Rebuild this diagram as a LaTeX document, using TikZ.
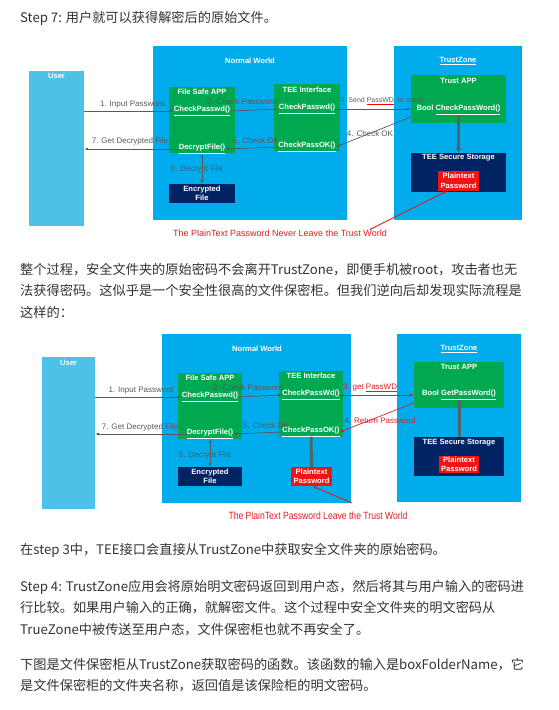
\documentclass[tikz,border=0pt]{standalone}
\usepackage{fontspec}
\setmainfont{Noto Sans CJK SC}
\newfontfamily\dfont{Liberation Sans}
\usepackage{graphicx}
\usetikzlibrary{arrows.meta}
\definecolor{tgray}{RGB}{51,51,51}
\definecolor{ublue}{RGB}{78,193,233}
\definecolor{wblue}{RGB}{0,172,236}
\definecolor{agreen}{RGB}{0,168,80}
\definecolor{snavy}{RGB}{0,35,100}
\definecolor{pred}{RGB}{240,20,20}
\definecolor{cred}{RGB}{225,30,35}
\definecolor{lgray}{RGB}{90,90,90}
\definecolor{bgray}{RGB}{80,100,110}
\newcommand\squig[1]{{\color{red}\underline{\color{lgray}#1}}}

\begin{document}
\begin{tikzpicture}[x=1pt,y=-1pt,
  para/.style={anchor=north west,inner sep=0,align=left,text=tgray,font=\fontsize{13.2}{21.3}\selectfont},
  area/.style={fill=wblue,inner sep=0},
  userbox/.style={fill=ublue,inner sep=0},
  app/.style={fill=agreen,inner sep=0},
  store/.style={fill=snavy,inner sep=0,text=white,align=center,font=\dfont\bfseries\fontsize{7.6}{9.5}\selectfont},
  plain/.style={store,fill=pred},
  ttl/.style={text=white,inner sep=0,font=\dfont\bfseries\fontsize{7.6}{9}\selectfont},
  lbl/.style={text=lgray,inner sep=0,font=\dfont\fontsize{8}{9}\selectfont},
  rlbl/.style={lbl,text=cred},
  arr/.style={-{Latex[length=4pt,width=3pt]},lgray,line width=0.7pt},
  darr/.style={arr,{Latex[length=4pt,width=3pt]}-{Latex[length=4pt,width=3pt]}},
  rarr/.style={arr,cred},
  thk/.style={bgray,line width=3pt},
  captxt/.style={text=cred,inner sep=0,font=\dfont\fontsize{9}{11}\selectfont}]
\fill[white] (0,0) rectangle (559,710);
\useasboundingbox (0,0) rectangle (559,710);

% text above
\node[para] (p1) at (20,11) {Step 7: 用户就可以获得解密后的原始文件。};

% first diagram
\node[area,minimum width=194,minimum height=174] (nw1) at (250,133) {};
\node[area,minimum width=128,minimum height=174] (tz1) at (458,133) {};
\node[userbox,minimum width=55,minimum height=155] (user1) at (56.5,148.5) {};
\node[app,minimum width=66,minimum height=66] (fsa1) at (202,120) {};
\node[app,minimum width=66,minimum height=67] (tei1) at (307,117.5) {};
\node[app,minimum width=95,minimum height=48] (tapp1) at (458.5,99) {};
\node[store,minimum width=66,minimum height=19] (enc1) at (202,193.5) {Encrypted\\File};
\node[store,minimum width=95,minimum height=39] (tss1) at (458.5,172.5) {};
\node[plain,minimum width=41,minimum height=20] (ptp1) at (458.5,181) {Plaintext\\Password};
\node[ttl] (user1t) at (56.5,76) {User};
\node[ttl] (nw1t) at (250,61) {Normal World};
\node[ttl] (tz1t) at (458,61) {\underline{TrustZone}};
\node[ttl] (fsa1t) at (202,92) {File Safe APP};
\node[ttl] (cp1) at (202,111) {\underline{CheckPasswd()}};
\node[ttl] (dec1) at (202,149) {\underline{DecryptFile()}};
\node[ttl] (tei1t) at (307,90) {TEE Interface};
\node[ttl] (tcp1) at (307,109) {\underline{CheckPasswd()}};
\node[ttl] (tok1) at (307,147) {\underline{CheckPassOK()}};
\node[ttl] (tapp1t) at (458.5,81) {Trust APP};
\node[ttl] (bcp1) at (458.5,110) {Bool \underline{CheckPassWord()}};
\node[ttl] (tss1t) at (458.5,158) {TEE Secure Storage};
\draw[arr] (user1.east |- cp1.west) -- (cp1.west);
\draw[arr] (cp1.east) -- (tcp1.west);
\draw[arr] (tcp1.east) -- (tcp1.east -| tapp1.west);
\draw[arr] ([yshift=-18pt]tapp1.west) -- (tok1.east);
\draw[arr] (tok1.west) -- (dec1.east);
\draw[arr] (dec1.west) -- (dec1.west -| user1.east);
\draw[darr] (dec1.south) -- (enc1.north);
\draw[thk,-{Latex[length=5pt,width=7pt]}] (bcp1.south -| tss1.north) -- (tss1.north);
\node[lbl] (l1a) at (132.5,104) {1. Input Password};
\node[lbl] (l2a) at (242,102) {2. Check Password};
\node[lbl,font=\dfont\fontsize{7}{8}\selectfont] (l3a) at (382,101) {3. Send \squig{PassWD}\ \ to check};
\node[lbl] (l4a) at (370,134) {4. Check OK};
\node[lbl] (l5a) at (256,141) {5. Check OK};
\node[lbl] (l6a) at (197,169) {6. Decrypt File};
\node[lbl] (l7a) at (130,141) {7. Get Decrypted File};
\node[captxt] (cap1) at (280,233) {The PlainText Password Never Leave the Trust World};
\draw[rarr,line width=0.9pt] ([xshift=-17pt]cap1.north east) -- ([xshift=-12pt]ptp1.south);

% text between
\node[para] (p2) at (20,263) {整个过程，安全文件夹的原始密码不会离开TrustZone，即便手机被root，攻击者也无\\
法获得密码。这似乎是一个安全性很高的文件保密柜。但我们逆向后却发现实际流程是\\
这样的：};

% second diagram
\node[area,minimum width=189,minimum height=169] (nw2) at (256.5,418.5) {};
\node[area,minimum width=124,minimum height=168] (tz2) at (459,418) {};
\node[userbox,minimum width=53,minimum height=152] (user2) at (68.5,433) {};
\node[app,minimum width=64,minimum height=66] (fsa2) at (210,406) {};
\node[app,minimum width=64,minimum height=66] (tei2) at (311,404) {};
\node[app,minimum width=90,minimum height=46] (tapp2) at (459,385) {};
\node[store,minimum width=64,minimum height=19] (enc2) at (210,476.5) {Encrypted\\File};
\node[plain,minimum width=41,minimum height=19] (ptn2) at (311.5,476.5) {Plaintext\\Password};
\node[store,minimum width=90,minimum height=39] (tss2) at (459,456.5) {};
\node[plain,minimum width=40,minimum height=17] (ptp2) at (459,464.5) {Plaintext\\Password};
\node[ttl] (user2t) at (68.5,363) {User};
\node[ttl] (nw2t) at (257,349) {Normal World};
\node[ttl] (tz2t) at (459,349) {\underline{TrustZone}};
\node[ttl] (fsa2t) at (210,378) {File Safe APP};
\node[ttl] (cp2) at (210,397) {\underline{CheckPasswd()}};
\node[ttl] (dec2) at (210,434) {\underline{DecryptFile()}};
\node[ttl] (tei2t) at (311,376) {TEE Interface};
\node[ttl] (tcp2) at (311,395) {\underline{CheckPassWd()}};
\node[ttl] (tok2) at (311,432) {\underline{CheckPassOK()}};
\node[ttl] (tapp2t) at (459,367) {Trust APP};
\node[ttl] (gpw2) at (459,395) {Bool \underline{GetPassWord()}};
\node[ttl] (tss2t) at (459,443) {TEE Secure Storage};
\draw[arr] (user2.east |- cp2.west) -- (cp2.west);
\draw[arr] (cp2.east) -- (tcp2.west);
\draw[rarr] (tcp2.east) -- (tcp2.east -| tapp2.west);
\draw[rarr] ([yshift=-18pt]tapp2.west) -- (tok2.east);
\draw[arr] (tok2.west) -- (dec2.east);
\draw[arr] (dec2.west) -- (dec2.west -| user2.east);
\draw[darr] (dec2.south) -- (enc2.north);
\draw[thk] (tok2.south) -- (ptn2.north);
\draw[thk] (gpw2.south -| tss2.north) -- (tss2.north);
\node[lbl] (l1b) at (141,390) {1. Input Password};
\node[lbl] (l2b) at (248,388) {2. Check Password};
\node[rlbl] (l3b) at (370,388) {3. get \underline{PassWD}};
\node[rlbl] (l4b) at (380,421) {4. Return Password};
\node[lbl] (l5b) at (266,426) {5. Check OK};
\node[lbl] (l6b) at (205,455) {6. Decrypt File};
\node[lbl] (l7b) at (140,427) {7. Get Decrypted File};
\node[captxt] (cap2) at (318,516) {\scalebox{0.82}[1]{\fontsize{10.5}{12}\selectfont The PlainText Password Leave the Trust World}};
\draw[rarr,line width=0.9pt] ([xshift=34pt,yshift=9pt]cap2.north) -- ([xshift=1pt]ptn2.south);

% text below
\node[para] (p3) at (20,543) {在step 3中，TEE接口会直接从TrustZone中获取安全文件夹的原始密码。};
\node[para] (p4) at (20,580) {Step 4: TrustZone应用会将原始明文密码返回到用户态，然后将其与用户输入的密码进\\
行比较。如果用户输入的正确，就解密文件。这个过程中安全文件夹的明文密码从\\
TrueZone中被传送至用户态，文件保密柜也就不再安全了。};
\node[para] (p5) at (20,658) {下图是文件保密柜从TrustZone获取密码的函数。该函数的输入是boxFolderName，它\\
是文件保密柜的文件夹名称，返回值是该保险柜的明文密码。};
\end{tikzpicture}
\end{document}
